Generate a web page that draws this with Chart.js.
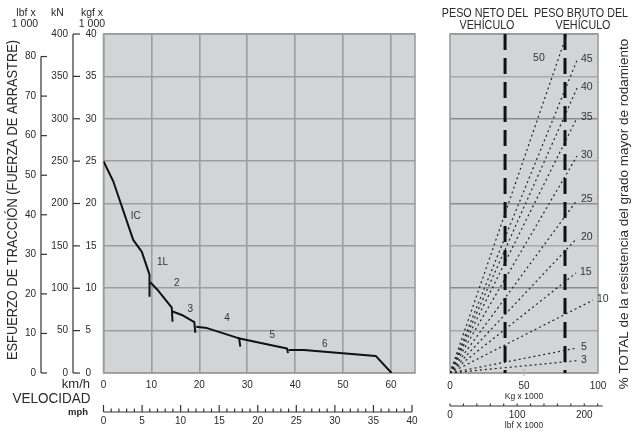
<!DOCTYPE html>
<html><head><meta charset="utf-8">
<script src="https://cdn.jsdelivr.net/npm/chart.js@4.4.1/dist/chart.umd.min.js"></script>
<style>
html,body{margin:0;padding:0;background:#fff;}
#wrap{position:relative;width:635px;height:432px;overflow:hidden;background:#fff;}
#c1{position:absolute;left:0;top:0;}
#c2{position:absolute;left:430px;top:0;}
</style></head><body>
<div id="wrap"><canvas id="c1" width="430" height="432"></canvas><canvas id="c2" width="205" height="432"></canvas></div>
<script>
// ================= DATA =================
// left chart: tractive effort vs speed
const speedKmhTicks = [0, 10, 20, 30, 40, 50, 60];
const speedMphTicks = [0, 5, 10, 15, 20, 25, 30, 35, 40];
const effortKgfTicks = [0, 5, 10, 15, 20, 25, 30, 35, 40];
const effortKNTicks = [0, 50, 100, 150, 200, 250, 300, 350, 400];
const effortLbfTicks = [0, 10, 20, 30, 40, 50, 60, 70, 80];

// gear curves: [km/h, kgf x 1000]
const gear1 = [[0, 25.0], [2.05, 22.6], [6.2, 15.7], [8.0, 14.3], [9.6, 11.6], [9.6, 9.1]];
const gear2 = [[9.75, 10.7], [11.45, 9.7], [14.25, 7.7], [14.4, 6.05]];
const gear3 = [[14.4, 7.25], [16.35, 6.85], [18.95, 6.0], [19.15, 4.75]];
const gear4 = [[19.35, 5.45], [21.6, 5.3], [28.3, 4.08], [28.55, 3.1]];
const gear5 = [[27.9, 4.12], [38.3, 2.88], [38.5, 2.35]];
const gear6 = [[38.6, 2.72], [41.8, 2.72], [56.8, 2.02], [60.1, 0]];

const gearLabels = ['IC', '1L', '2', '3', '4', '5', '6'];
const gearLabelSpeed = [6.74, 12.3, 15.3, 18.1, 25.8, 35.2, 46.2];
const gearLabelEffort = [18.45, 13.1, 10.6, 7.56, 6.46, 4.43, 3.43];

// right chart: rolling / grade resistance vs vehicle weight
const weightKgTicks = [0, 50, 100];
const weightLbfTicks = [0, 20, 40, 60, 80, 100, 120, 140, 160, 180, 200, 220];
const weightLbfLabels = [0, 100, 200];
const gradePct = [3, 5, 10, 15, 20, 25, 30, 35, 40, 45, 50];
const gradeEndWeight = [85.8, 85.8, 96.6, 85.1, 85.8, 85.8, 85.8, 85.8, 85.8, 85.8, 79.0];
const gradeEndEffort = [1.45, 2.95, 8.6, 11.8, 15.9, 20.4, 25.6, 30.1, 33.6, 36.9, 40.0];
const netWeight = 37.2;
const grossWeight = 77.7;

// ================= STYLE =================
const FONT = "'Liberation Sans', Arial, Helvetica, sans-serif";
const TEXT = '#2a2a2a';
const PLOT_BG = '#d3d4d6';
const GRID = '#9d9d9d';
const AXIS = '#333';
const KMH_PER_MPH = 1.609344;
const KG_PER_LBF = 0.45359237;

function txt(ctx, s, x, y, size, align, opts) {
  opts = opts || {};
  ctx.save();
  ctx.font = (opts.bold ? 'bold ' : '') + size + 'px ' + FONT;
  ctx.fillStyle = opts.color || TEXT;
  ctx.textAlign = align || 'center';
  ctx.textBaseline = 'middle';
  ctx.translate(x, y);
  if (opts.rot) ctx.rotate(opts.rot);
  if (opts.sx) ctx.scale(opts.sx, 1);
  if (opts.maxW) ctx.fillText(s, 0, 0, opts.maxW); else ctx.fillText(s, 0, 0);
  ctx.restore();
}
function seg(ctx, x1, y1, x2, y2) { ctx.beginPath(); ctx.moveTo(x1, y1); ctx.lineTo(x2, y2); ctx.stroke(); }

const plotFrame = {
  id: 'plotFrame',
  beforeDraw(chart) {
    const { ctx, chartArea: a } = chart;
    ctx.save(); ctx.fillStyle = PLOT_BG;
    ctx.fillRect(a.left, a.top, a.right - a.left, a.bottom - a.top);
    ctx.restore();
  },
  beforeDatasetsDraw(chart) {
    const { ctx, chartArea: a } = chart;
    ctx.save(); ctx.strokeStyle = GRID; ctx.lineWidth = 1.6;
    ctx.strokeRect(a.left, a.top, a.right - a.left, a.bottom - a.top);
    ctx.restore();
  }
};

const ticksFrom = arr => s => { s.ticks = arr.map(v => ({ value: v })); };
const pts = g => g.map(p => ({ x: p[0], y: p[1] }));

// ================= LEFT CHART =================
const leftExtras = {
  id: 'leftExtras',
  afterDraw(chart) {
    const ctx = chart.ctx;
    const yl = chart.scales.yLbf, yk = chart.scales.yKN, xs = chart.scales.x, ys = chart.scales.y, xm = chart.scales.xMph;
    ctx.save();
    ctx.strokeStyle = AXIS; ctx.lineWidth = 1.2;
    // lbf axis
    const lbfX = 41;
    seg(ctx, lbfX, yl.getPixelForValue(effortLbfTicks[effortLbfTicks.length - 1]), lbfX, yl.getPixelForValue(0));
    effortLbfTicks.forEach(v => {
      const y = yl.getPixelForValue(v);
      seg(ctx, lbfX, y, lbfX + 6, y);
      txt(ctx, String(v), lbfX - 5, y, 10, 'right');
    });
    // kN axis
    const knX = 73;
    seg(ctx, knX, yk.getPixelForValue(effortKNTicks[effortKNTicks.length - 1]), knX, yk.getPixelForValue(0));
    effortKNTicks.forEach(v => {
      const y = yk.getPixelForValue(v);
      seg(ctx, knX, y, knX + 7, y);
      txt(ctx, String(v), knX - 5, y, 10, 'right');
    });
    // unit headers
    txt(ctx, 'lbf x', 26, 13, 10.5, 'center');
    txt(ctx, '1 000', 25, 24, 10.5, 'center');
    txt(ctx, 'kN', 57.5, 13, 10.5, 'center');
    txt(ctx, 'kgf x', 92, 13, 10.5, 'center');
    txt(ctx, '1 000', 92, 24, 10.5, 'center');
    // mph ruler
    const base = 412;
    seg(ctx, xm.getPixelForValue(0), base, xm.getPixelForValue(speedMphTicks[speedMphTicks.length - 1]), base);
    for (let m = 0; m <= speedMphTicks[speedMphTicks.length - 1]; m++) {
      const x = xm.getPixelForValue(m);
      const major = speedMphTicks.indexOf(m) >= 0;
      seg(ctx, x, base, x, major ? base - 7 : base - 3.5);
    }
    speedMphTicks.forEach(v => txt(ctx, String(v), xm.getPixelForValue(v), 421.5, 10, 'center'));
    // axis titles
    txt(ctx, 'km/h', 90, 384, 13, 'right');
    txt(ctx, 'VELOCIDAD', 51.5, 399, 14, 'center', { maxW: 78 });
    txt(ctx, 'mph', 88, 412, 9.5, 'right', { bold: true });
    txt(ctx, 'ESFUERZO DE TRACCIÓN (FUERZA DE ARRASTRE)', 13, 200, 15, 'center', { rot: -Math.PI / 2, maxW: 320 });
    // gear labels
    gearLabels.forEach((g, i) => {
      txt(ctx, g, xs.getPixelForValue(gearLabelSpeed[i]), ys.getPixelForValue(gearLabelEffort[i]), 10, 'center', { color: '#333' });
    });
    ctx.restore();
  }
};

const gearSets = [gear1, gear2, gear3, gear4, gear5, gear6].map((g, i) => ({
  label: 'Marcha ' + (i + 1),
  data: pts(g),
  showLine: true,
  borderColor: '#111',
  borderWidth: 2,
  pointRadius: 0,
  tension: 0,
  fill: false,
  borderJoinStyle: 'round'
}));

new Chart(document.getElementById('c1'), {
  type: 'scatter',
  data: { datasets: gearSets },
  options: {
    responsive: false, animation: false, devicePixelRatio: 1,
    layout: { padding: { left: 85.5, top: 34, right: 15, bottom: 0 } },
    plugins: { legend: { display: false }, tooltip: { enabled: false } },
    scales: {
      x: {
        type: 'linear', min: 0, max: 65,
        afterBuildTicks: ticksFrom(speedKmhTicks),
        afterFit: s => { s.height = 59; },
        grid: { color: GRID, lineWidth: 1.6, drawTicks: false },
        border: { display: false },
        ticks: { padding: 6, color: TEXT, font: { size: 10, family: FONT }, maxRotation: 0, autoSkip: false }
      },
      y: {
        type: 'linear', min: 0, max: 40,
        afterBuildTicks: ticksFrom(effortKgfTicks),
        afterFit: s => { s.width = 18; },
        grid: { color: GRID, lineWidth: 1.6, drawTicks: false },
        border: { display: false },
        ticks: { padding: 0, crossAlign: 'far', color: TEXT, font: { size: 10, family: FONT }, autoSkip: false }
      },
      yKN: { type: 'linear', display: false, position: 'left', min: 0, max: 400 },
      yLbf: { type: 'linear', display: false, position: 'left', min: 0, max: 85.7 },
      xMph: { type: 'linear', display: false, position: 'bottom', min: 0, max: 65 / KMH_PER_MPH }
    }
  },
  plugins: [plotFrame, leftExtras]
});

// ================= RIGHT CHART =================
const rightExtras = {
  id: 'rightExtras',
  afterDraw(chart) {
    const ctx = chart.ctx;
    const xs = chart.scales.x, ys = chart.scales.y, xl = chart.scales.xLbf;
    const a = chart.chartArea;
    ctx.save();
    // fan labels
    gradePct.forEach((p, i) => {
      let x = xs.getPixelForValue(gradeEndWeight[i]), y = ys.getPixelForValue(gradeEndEffort[i]);
      if (i === gradePct.length - 1) {
        const f = 0.93;
        x = xs.getPixelForValue(gradeEndWeight[i] * f) - 14;
        y = ys.getPixelForValue(gradeEndEffort[i] * f);
        txt(ctx, String(p), x, y, 10.5, 'right', { color: '#333' });
      } else {
        txt(ctx, String(p), x + 4, y - 1, 10.5, 'left', { color: '#333' });
      }
    });
    // small tick at 50
    ctx.strokeStyle = '#b5b5b5'; ctx.lineWidth = 1.2;
    const x50 = xs.getPixelForValue(weightKgTicks[1]);
    seg(ctx, x50, a.bottom - 4, x50, a.bottom + 3);
    // kg unit
    txt(ctx, 'Kg x 1000', x50, 397, 8.5, 'center');
    // lbf ruler
    ctx.strokeStyle = AXIS; ctx.lineWidth = 1.1;
    const base = 406;
    const last = weightLbfTicks[weightLbfTicks.length - 1];
    seg(ctx, xl.getPixelForValue(0), base, xl.getPixelForValue(last) + 5, base);
    weightLbfTicks.forEach(v => { const x = xl.getPixelForValue(v); seg(ctx, x, base, x, base - 2.5); });
    weightLbfLabels.forEach(v => txt(ctx, String(v), xl.getPixelForValue(v), 415, 10, 'center'));
    txt(ctx, 'lbf X 1000', x50, 426, 8.5, 'center');
    // headers
    txt(ctx, 'PESO NETO DEL', 55, 14, 12.5, 'center', { sx: 0.86 });
    txt(ctx, 'VEHÍCULO', 57, 25.5, 12.5, 'center', { sx: 0.86 });
    txt(ctx, 'PESO BRUTO DEL', 151, 14, 12.5, 'center', { sx: 0.86 });
    txt(ctx, 'VEHÍCULO', 153, 25.5, 12.5, 'center', { sx: 0.86 });
    // side title
    txt(ctx, '% TOTAL de la resistencia del grado mayor de rodamiento', 194, 214, 13.5, 'center', { rot: -Math.PI / 2, maxW: 357 });
    ctx.restore();
  }
};

const fanSets = gradePct.map((p, i) => ({
  label: p + '%',
  data: [{ x: 0, y: 0 }, { x: gradeEndWeight[i], y: gradeEndEffort[i] }],
  showLine: true,
  borderColor: '#222',
  borderWidth: 1.2,
  borderDash: [2, 3],
  pointRadius: 0,
  tension: 0,
  fill: false
}));
const weightLine = (w, name) => ({
  label: name,
  data: [{ x: w, y: 40 }, { x: w, y: 0 }],
  showLine: true,
  borderColor: '#111',
  borderWidth: 3,
  borderDash: [16, 8],
  pointRadius: 0,
  fill: false
});

new Chart(document.getElementById('c2'), {
  type: 'scatter',
  data: { datasets: fanSets.concat([weightLine(netWeight, 'Peso neto'), weightLine(grossWeight, 'Peso bruto')]) },
  options: {
    responsive: false, animation: false, devicePixelRatio: 1,
    layout: { padding: { left: 20, top: 34, right: 37, bottom: 0 } },
    plugins: { legend: { display: false }, tooltip: { enabled: false } },
    scales: {
      x: {
        type: 'linear', min: 0, max: 100,
        afterBuildTicks: ticksFrom(weightKgTicks),
        afterFit: s => { s.height = 59; },
        grid: { display: false, drawTicks: false },
        border: { display: false },
        ticks: { padding: 7, color: TEXT, font: { size: 10, family: FONT }, maxRotation: 0, autoSkip: false }
      },
      y: {
        type: 'linear', min: 0, max: 40,
        afterBuildTicks: ticksFrom(effortKgfTicks),
        afterFit: s => { s.width = 0; },
        grid: { color: c => (c.tick && c.tick.value % 10 === 0) ? '#8c8c8c' : '#a8a8a8', lineWidth: 1.6, drawTicks: false },
        border: { display: false },
        ticks: { display: false }
      },
      xLbf: { type: 'linear', display: false, position: 'bottom', min: 0, max: 100 / KG_PER_LBF }
    }
  },
  plugins: [plotFrame, rightExtras]
});
</script>
</body></html>
